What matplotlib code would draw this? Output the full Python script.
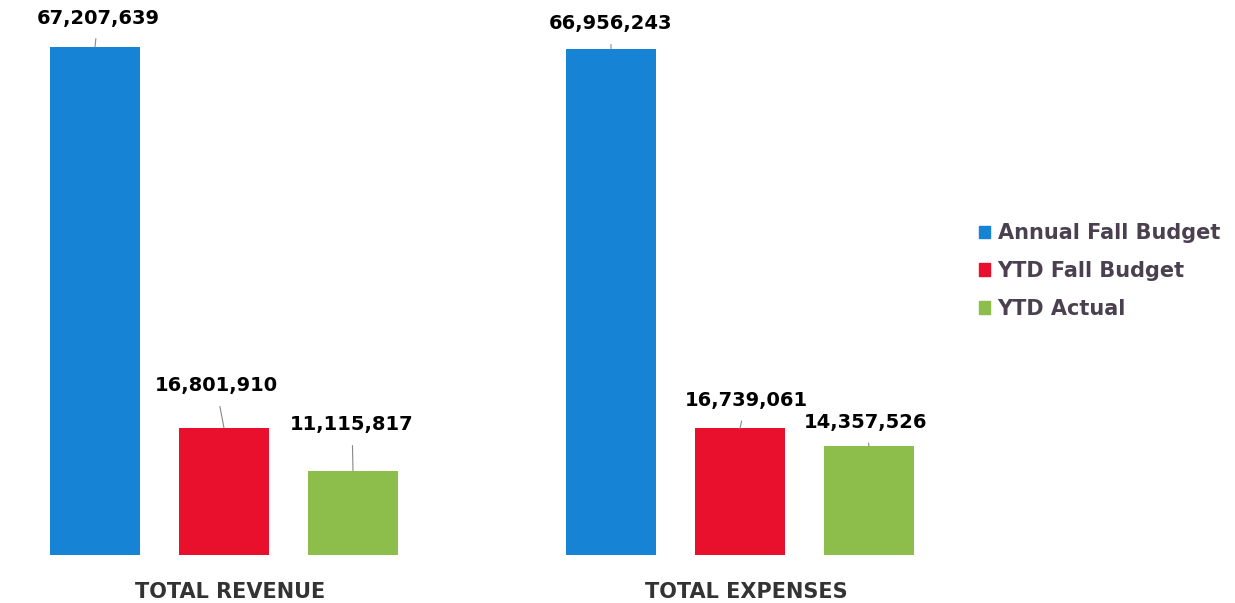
import matplotlib.pyplot as plt

# budget summary, two groups of three bars
groups = ['TOTAL REVENUE', 'TOTAL EXPENSES']
series = ['Annual Fall Budget', 'YTD Fall Budget', 'YTD Actual']
revenue = [67207639, 16801910, 11115817]
expenses = [66956243, 16739061, 14357526]
colors = ['#1783d5', '#e8102c', '#8dbd4a']

# label offsets (pixels) from each bar top
label_dx = [3, -8, -1, 0, 6, -3]
label_dy = [29, 42, 46, 25, 28, 24]

fig = plt.figure(figsize=(12.35, 6.03), dpi=100)
ax = fig.add_axes([30 / 1235, 1 - 555 / 603, 910 / 1235, 545 / 603])

xs = [0, 1, 2, 4, 5, 6]
vals = revenue + expenses
cols = colors + colors
bars = ax.bar(xs, vals, width=0.7, color=cols, zorder=2)

for i, (b, v) in enumerate(zip(bars, vals)):
    cx = b.get_x() + b.get_width() / 2
    ax.annotate(f'{v:,}', xy=(cx, v), xytext=(label_dx[i], label_dy[i]),
                textcoords='offset pixels', ha='center', va='center',
                fontsize=14, fontweight='heavy', color='black',
                arrowprops=dict(arrowstyle='-', color='#888888', lw=0.8,
                                shrinkA=6, shrinkB=0))

ax.set_xlim((30 - 95) / 129, (940 - 95) / 129)
ax.set_ylim(0, 545 / 508 * 67207639)
ax.axis('off')

# group names under the middle bar of each group
for gx, name in zip([1, 5], groups):
    ax.text(gx + 0.05, -37 / 508 * 67207639, name, ha='center', va='center',
            fontsize=15, fontweight='bold', color='#333333', clip_on=False)

handles = [plt.Rectangle((0, 0), 1, 1, color=c) for c in colors]
leg = fig.legend(handles, series, loc='center left',
                 bbox_to_anchor=(960 / 1235, 1 - 271 / 603), frameon=False,
                 handlelength=0.55, handleheight=0.55, handletextpad=0.35,
                 labelspacing=0.85, prop=dict(size=15, weight='bold'))
for t in leg.get_texts():
    t.set_color('#4a4050')

fig.savefig('out.png', dpi=100)
